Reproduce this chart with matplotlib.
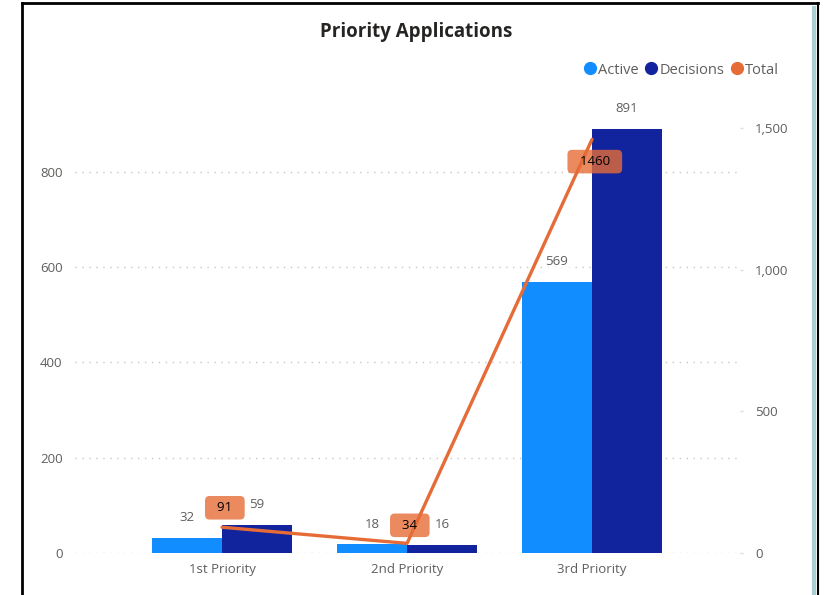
import matplotlib
matplotlib.use("Agg")
import matplotlib.pyplot as plt
from matplotlib.lines import Line2D
import numpy as np

categories = ["1st Priority", "2nd Priority", "3rd Priority"]
active = [32, 18, 569]
decisions = [59, 16, 891]
total = [91, 34, 1460]
left_ticks = [0, 200, 400, 600, 800]
right_ticks = [0, 500, 1000, 1500]
right_tick_labels = ["0", "500", "1,000", "1,500"]

C_ACTIVE = "#118DFF"
C_DEC = "#12239E"
C_TOTAL = "#E66C37"
GREY = "#605E5C"

plt.rcParams["font.family"] = ["Open Sans", "DejaVu Sans"]

fig = plt.figure(figsize=(8.33, 5.95), dpi=100)
ax = fig.add_axes([75 / 833, 1 - 553 / 595, 665 / 833, 453 / 595])
ax2 = ax.twinx()

x = np.arange(len(categories))
w = 0.378
ax.bar(x - w / 2, active, width=w, color=C_ACTIVE, zorder=2)
ax.bar(x + w / 2, decisions, width=w, color=C_DEC, zorder=2)
ax.set_xlim(-0.795, 2.8)
ax.set_ylim(0, 951)
ax2.set_ylim(0, 1599)

ax2.plot(x, total, color=C_TOTAL, lw=2.4, solid_capstyle="round", zorder=3)

# grid
ax.set_yticks(left_ticks)
ax.set_yticklabels([str(t) for t in left_ticks])
ax.yaxis.grid(True, linestyle=(0, (1, 4)), color="#C8C6C4", lw=1)
ax.set_axisbelow(True)
ax2.set_yticks(right_ticks)
ax2.set_yticklabels(right_tick_labels)
ax.set_xticks(x)
ax.set_xticklabels(categories)

for a in (ax, ax2):
    for s in a.spines.values():
        s.set_visible(False)
ax.tick_params(axis="y", length=0, pad=9, labelsize=9.5, labelcolor=GREY)
ax.tick_params(axis="x", length=0, pad=7, labelsize=9.5, labelcolor=GREY)
ax2.tick_params(axis="y", length=2, width=1, color="#DDDDDD", pad=9, labelsize=9.5, labelcolor=GREY)

# bar labels (on top axes so they mask the line)
for i in range(len(categories)):
    for xv, v in ((x[i] - w / 2, active[i]), (x[i] + w / 2, decisions[i])):
        ax2.annotate(str(v), xy=(xv, v), xycoords=ax.transData,
                     xytext=(0, 10), textcoords="offset points",
                     ha="center", va="bottom", fontsize=9.5, color=GREY,
                     bbox=dict(boxstyle="square,pad=0.1", fc="white", ec="none", alpha=0.75),
                     zorder=4)

# line labels
offsets = [14, 13, -16]
for i, v in enumerate(total):
    ax2.annotate("  " + str(v) + "  ", xy=(x[i], v), xytext=(2, offsets[i]), textcoords="offset points",
                 ha="center", va="center", fontsize=9.5, color="black",
                 bbox=dict(boxstyle="round,pad=0.4,rounding_size=0.35", fc=C_TOTAL, ec="none", alpha=0.8),
                 zorder=5)

fig.text(416 / 833, 1 - 32 / 595, "Priority Applications", ha="center", va="center",
         fontsize=13.5, fontweight="bold", color="#252423")

handles = [Line2D([], [], marker="o", ls="none", color=c, markersize=8.5)
           for c in (C_ACTIVE, C_DEC, C_TOTAL)]
fig.legend(handles, ["Active", "Decisions", "Total"], loc="center right",
           bbox_to_anchor=(786 / 833, 1 - 70 / 595), ncol=3, frameon=False,
           handlelength=0.7, handletextpad=0.2, columnspacing=0.5,
           fontsize=10.5, labelcolor=GREY, borderpad=0)

# frame
fig.add_artist(Line2D([22 / 833, 22 / 833], [0, 1 - 3 / 595], transform=fig.transFigure, color="black", lw=2))
fig.add_artist(Line2D([22 / 833, 818 / 833], [1 - 3 / 595, 1 - 3 / 595], transform=fig.transFigure, color="black", lw=2))
fig.add_artist(Line2D([814 / 833, 814 / 833], [0, 1 - 8 / 595], transform=fig.transFigure, color="#A9CFD3", lw=3))
fig.add_artist(Line2D([818 / 833, 818 / 833], [0, 1 - 3 / 595], transform=fig.transFigure, color="black", lw=1.5))

fig.savefig("out.png", dpi=100)
